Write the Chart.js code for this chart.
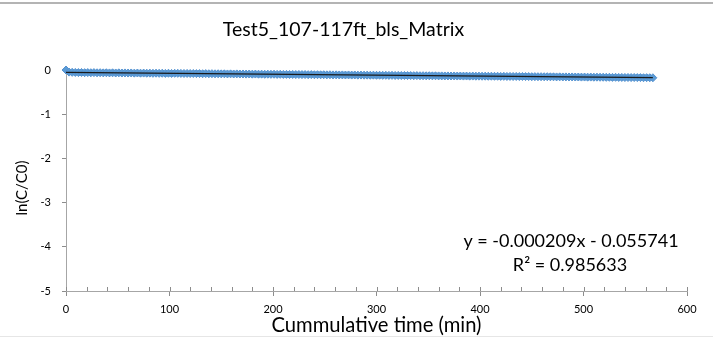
<!DOCTYPE html>
<html>
<head>
<meta charset="utf-8">
<script src="https://cdn.jsdelivr.net/npm/chart.js@4/dist/chart.umd.min.js"></script>
<style>
  html, body { margin: 0; padding: 0; background: #fff; }
  #wrap { position: relative; width: 713px; height: 338px; overflow: hidden; }
  #wrap .edge { position: absolute; left: 0; width: 713px; height: 0; }
  #topEdge { top: 2px; border-top: 2px solid #b4b4b4; }
  #bottomEdge { top: 336px; border-top: 1px solid #e6e6e6; }
  canvas { position: absolute; left: 0; top: 0; }
</style>
</head>
<body>
<div id="wrap">
  <canvas id="chart" width="713" height="338"></canvas>
  <div id="topEdge" class="edge"></div>
  <div id="bottomEdge" class="edge"></div>
</div>
<script>
const chartTitle = 'Test5_107-117ft_bls_Matrix';
const xTitle = 'Cummulative time (min)';
const yTitle = 'ln(C/C0)';

// Cumulative sampling times (min)
const times = [
  0, 3, 6, 9, 12, 15, 18, 21, 24, 27, 30, 33, 36, 39, 42, 45, 48, 51, 54, 57,
  60, 63, 66, 69, 72, 75, 78, 81, 84, 87, 90, 93, 96, 99, 102, 105, 108, 111, 114, 117,
  120, 123, 126, 129, 132, 135, 138, 141, 144, 147, 150, 153, 156, 159, 162, 165, 168, 171, 174, 177,
  180, 183, 186, 189, 192, 195, 198, 201, 204, 207, 210, 213, 216, 219, 222, 225, 228, 231, 234, 237,
  240, 243, 246, 249, 252, 255, 258, 261, 264, 267, 270, 273, 276, 279, 282, 285, 288, 291, 294, 297,
  300, 303, 306, 309, 312, 315, 318, 321, 324, 327, 330, 333, 336, 339, 342, 345, 348, 351, 354, 357,
  360, 363, 366, 369, 372, 375, 378, 381, 384, 387, 390, 393, 396, 399, 402, 405, 408, 411, 414, 417,
  420, 423, 426, 429, 432, 435, 438, 441, 444, 447, 450, 453, 456, 459, 462, 465, 468, 471, 474, 477,
  480, 483, 486, 489, 492, 495, 498, 501, 504, 507, 510, 513, 516, 519, 522, 525, 528, 531, 534, 537,
  540, 543, 546, 549, 552, 555, 558, 561, 564, 567
];

// Measured ln(C/C0)
const lnRatio = [
  0.000, -0.048, -0.053, -0.055, -0.058, -0.056, -0.060, -0.058, -0.062, -0.059, -0.063, -0.061, -0.065, -0.062, -0.066, -0.063, -0.067, -0.064, -0.068, -0.066,
  -0.069, -0.067, -0.071, -0.068, -0.072, -0.070, -0.073, -0.071, -0.075, -0.072, -0.076, -0.073, -0.077, -0.074, -0.078, -0.075, -0.076, -0.077, -0.079, -0.078,
  -0.080, -0.079, -0.082, -0.081, -0.084, -0.082, -0.085, -0.083, -0.086, -0.085, -0.087, -0.086, -0.089, -0.087, -0.090, -0.088, -0.091, -0.090, -0.093, -0.091,
  -0.094, -0.092, -0.095, -0.094, -0.097, -0.095, -0.098, -0.096, -0.099, -0.098, -0.100, -0.099, -0.102, -0.101, -0.103, -0.102, -0.104, -0.103, -0.106, -0.104,
  -0.107, -0.106, -0.108, -0.107, -0.110, -0.108, -0.111, -0.110, -0.112, -0.111, -0.113, -0.112, -0.115, -0.113, -0.116, -0.115, -0.117, -0.116, -0.119, -0.117,
  -0.120, -0.119, -0.121, -0.120, -0.122, -0.121, -0.124, -0.123, -0.125, -0.124, -0.126, -0.126, -0.128, -0.127, -0.130, -0.129, -0.131, -0.130, -0.132, -0.131,
  -0.133, -0.133, -0.135, -0.134, -0.136, -0.135, -0.137, -0.136, -0.138, -0.137, -0.139, -0.138, -0.140, -0.139, -0.141, -0.140, -0.142, -0.141, -0.143, -0.142,
  -0.145, -0.144, -0.146, -0.145, -0.147, -0.146, -0.148, -0.147, -0.149, -0.149, -0.151, -0.150, -0.152, -0.151, -0.153, -0.152, -0.154, -0.154, -0.156, -0.155,
  -0.157, -0.156, -0.158, -0.157, -0.159, -0.159, -0.161, -0.160, -0.162, -0.161, -0.163, -0.162, -0.164, -0.164, -0.166, -0.165, -0.167, -0.166, -0.168, -0.168,
  -0.170, -0.169, -0.171, -0.170, -0.172, -0.172, -0.174, -0.173, -0.175, -0.176
];

// Linear trendline fitted to the series
const slope = -0.000209;
const intercept = -0.055741;
const rSquared = 0.985633;

const xTicks = [0, 100, 200, 300, 400, 500, 600];
const yTicks = [0, -1, -2, -3, -4, -5];

const FONT = 'Lato, "Open Sans", sans-serif';
const AXIS_GREY = '#a6a6a6';
const TICK_GREY = '#8c8c8c';
const SERIES_FILL = '#5b9bd5';
const SERIES_EDGE = '#5592d0';

const points = times.map((t, i) => ({ x: t, y: lnRatio[i] }));
const tFirst = times[0], tLast = times[times.length - 1];
const trend = [
  { x: tFirst, y: slope * tFirst + intercept },
  { x: tLast, y: slope * tLast + intercept }
];

// Minor ticks along the time axis (every 20 min, inside the plot)
const axisTicks = {
  id: 'axisTicks',
  afterDraw(chart) {
    const { ctx, scales: { x, y } } = chart;
    const yAxis = y.getPixelForValue(-5);
    ctx.save();
    ctx.strokeStyle = TICK_GREY;
    ctx.lineWidth = 1;
    ctx.beginPath();
    for (let v = 0; v <= 600; v += 20) {
      const px = Math.round(x.getPixelForValue(v)) + 0.5;
      ctx.moveTo(px, yAxis);
      ctx.lineTo(px, yAxis - 4);
    }
    ctx.stroke();
    ctx.restore();
  }
};

// Vertical axis title, set slightly below the middle of the plot
const yAxisTitle = {
  id: 'yAxisTitle',
  afterDraw(chart) {
    const { ctx } = chart;
    ctx.save();
    ctx.translate(22, 188);
    ctx.rotate(-Math.PI / 2);
    ctx.fillStyle = '#000';
    ctx.font = '15px ' + FONT;
    ctx.textAlign = 'center';
    ctx.textBaseline = 'middle';
    ctx.fillText(yTitle, 0, 0);
    ctx.restore();
  }
};

// Trendline equation and R² annotation
const equationLabel = {
  id: 'equationLabel',
  afterDraw(chart) {
    const { ctx } = chart;
    const sign = intercept < 0 ? '-' : '+';
    const line1 = 'y = ' + slope.toFixed(6) + 'x ' + sign + ' ' + Math.abs(intercept).toFixed(6);
    const line2 = 'R² = ' + rSquared.toFixed(6);
    ctx.save();
    ctx.fillStyle = '#000';
    ctx.font = '18px ' + FONT;
    ctx.textAlign = 'center';
    ctx.textBaseline = 'middle';
    ctx.fillText(line1, 571, 241);
    ctx.fillText(line2, 570, 265);
    ctx.restore();
  }
};

new Chart(document.getElementById('chart'), {
  type: 'scatter',
  data: {
    datasets: [
      {
        type: 'line',
        data: trend,
        borderColor: '#1a1a1a',
        borderWidth: 1.2,
        pointRadius: 0,
        fill: false,
        clip: false,
        order: 0
      },
      {
        data: points,
        pointStyle: 'rectRot',
        pointRadius: 4,
        backgroundColor: SERIES_FILL,
        borderColor: SERIES_EDGE,
        borderWidth: 1,
        showLine: false,
        clip: false,
        order: 1
      }
    ]
  },
  options: {
    responsive: false,
    animation: false,
    devicePixelRatio: 1,
    layout: { padding: { left: 0, right: 26, top: 0, bottom: 0 } },
    plugins: {
      legend: { display: false },
      tooltip: { enabled: false },
      title: {
        display: true,
        text: chartTitle,
        color: '#000',
        font: { family: FONT, size: 19.5, weight: 'normal', lineHeight: 1.2 },
        padding: { top: 18.5, bottom: 28.1 }
      }
    },
    scales: {
      x: {
        type: 'linear',
        min: 0,
        max: 600,
        afterBuildTicks(scale) { scale.ticks = xTicks.map(v => ({ value: v })); },
        afterFit(scale) { scale.height = 47; },
        ticks: { color: '#000', font: { family: FONT, size: 11 }, padding: 7, maxRotation: 0 },
        grid: { drawOnChartArea: false, drawTicks: true, tickLength: 5, color: TICK_GREY },
        border: { color: AXIS_GREY, width: 1 },
        title: {
          display: true,
          text: xTitle,
          color: '#000',
          font: { family: FONT, size: 20.2, lineHeight: 1.2 },
          padding: { top: 0, bottom: 0 }
        }
      },
      y: {
        type: 'linear',
        min: -5,
        max: 0,
        afterBuildTicks(scale) { scale.ticks = yTicks.map(v => ({ value: v })); },
        afterFit(scale) { scale.width = 66; },
        ticks: { color: '#000', font: { family: FONT, size: 11 }, padding: 11 },
        grid: { drawOnChartArea: false, drawTicks: true, tickLength: 4, color: TICK_GREY },
        border: { color: AXIS_GREY, width: 1 },
        title: { display: false }
      }
    }
  },
  plugins: [axisTicks, yAxisTitle, equationLabel]
});
</script>
</body>
</html>
